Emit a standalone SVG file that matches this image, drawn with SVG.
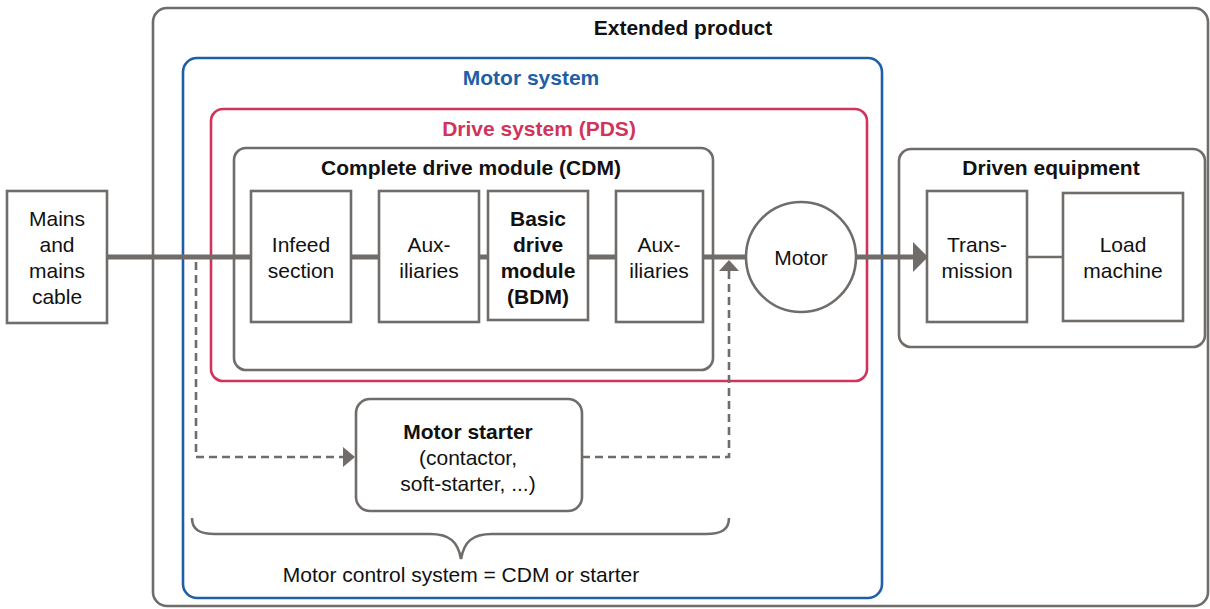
<svg xmlns="http://www.w3.org/2000/svg" width="1210" height="609" viewBox="0 0 1210 609">
<defs>
<style>
.box{fill:#fff;stroke:#706c69;stroke-width:2.6}
.cont{fill:none;stroke:#706c69;stroke-width:2.6}
.t{font-family:"Liberation Sans",Arial,sans-serif;font-size:21px;fill:#111;text-anchor:middle;dominant-baseline:central}
.b{font-weight:bold}
.dash{fill:none;stroke:#706c69;stroke-width:2.6;stroke-dasharray:8 5}
.ah{fill:#706c69}
</style>
</defs>
<rect width="1210" height="609" fill="#fff"/>
<g id="extended-product">
<rect class="cont" x="153" y="8" width="1055" height="598" rx="14"/>
<text class="t b" x="683" y="27">Extended product</text>
</g>
<g id="motor-system">
<rect x="183" y="58" width="699" height="540" rx="14" fill="none" stroke="#1f5fa6" stroke-width="2.6"/>
<text class="t b" x="531" y="77" style="fill:#1f5fa6">Motor system</text>
</g>
<g id="drive-system">
<rect x="211" y="109" width="656" height="272" rx="12" fill="none" stroke="#d1345b" stroke-width="2.6"/>
<text class="t b" x="539" y="128" style="fill:#d1345b">Drive system (PDS)</text>
</g>
<g id="cdm">
<rect class="cont" x="234" y="148" width="479" height="222" rx="12"/>
<text class="t b" x="471" y="167">Complete drive module (CDM)</text>
</g>
<g id="driven-equipment">
<rect class="cont" x="899" y="149" width="306" height="198" rx="12"/>
<text class="t b" x="1051" y="167">Driven equipment</text>
</g>
<g id="connectors">
<line x1="107" y1="257" x2="914" y2="257" stroke="#706c69" stroke-width="5"/>
<polygon class="ah" points="913,242 928,257 913,272"/>
<line x1="1027" y1="257" x2="1063" y2="257" stroke="#706c69" stroke-width="2.6"/>
<polyline class="dash" points="196,262 196,457 345,457"/>
<polygon class="ah" points="343,447 355,457 343,467"/>
<polyline class="dash" points="582,457 729,457 729,270"/>
<polygon class="ah" points="719,271 729,260 739,271"/>
<path d="M192,518 C192,530 200,534 215,534 L430,534 C450,534 458,542 461,559 C464,542 472,534 492,534 L706,534 C721,534 729,530 729,518" fill="none" stroke="#706c69" stroke-width="2.6"/>
</g>
<g id="mains">
<rect class="box" x="7" y="191" width="100" height="132"/>
<text class="t" x="57" y="218">Mains</text>
<text class="t" x="57" y="244">and</text>
<text class="t" x="57" y="270">mains</text>
<text class="t" x="57" y="296">cable</text>
</g>
<g id="infeed">
<rect class="box" x="251" y="191" width="100" height="131"/>
<text class="t" x="301" y="244">Infeed</text>
<text class="t" x="301" y="270">section</text>
</g>
<g id="aux1">
<rect class="box" x="379" y="191" width="100" height="131"/>
<text class="t" x="429" y="244">Aux-</text>
<text class="t" x="429" y="270">iliaries</text>
</g>
<g id="bdm">
<rect class="box" x="488" y="191" width="100" height="129"/>
<text class="t b" x="538" y="218">Basic</text>
<text class="t b" x="538" y="244">drive</text>
<text class="t b" x="538" y="270">module</text>
<text class="t b" x="538" y="296">(BDM)</text>
</g>
<g id="aux2">
<rect class="box" x="616" y="191" width="87" height="131"/>
<text class="t" x="659" y="244">Aux-</text>
<text class="t" x="659" y="270">iliaries</text>
</g>
<g id="motor">
<circle class="box" cx="801" cy="257" r="55"/>
<text class="t" x="801" y="257">Motor</text>
</g>
<g id="transmission">
<rect class="box" x="927" y="191" width="100" height="131"/>
<text class="t" x="977" y="244">Trans-</text>
<text class="t" x="977" y="270">mission</text>
</g>
<g id="load-machine">
<rect class="box" x="1063" y="193" width="120" height="128"/>
<text class="t" x="1123" y="244">Load</text>
<text class="t" x="1123" y="270">machine</text>
</g>
<g id="motor-starter">
<rect class="box" x="356" y="399" width="226" height="112" rx="14"/>
<text class="t b" x="468" y="431">Motor starter</text>
<text class="t" x="468" y="457">(contactor,</text>
<text class="t" x="468" y="483">soft-starter, ...)</text>
</g>
<g id="motor-control-label">
<text class="t" x="461" y="574">Motor control system = CDM or starter</text>
</g>
</svg>
